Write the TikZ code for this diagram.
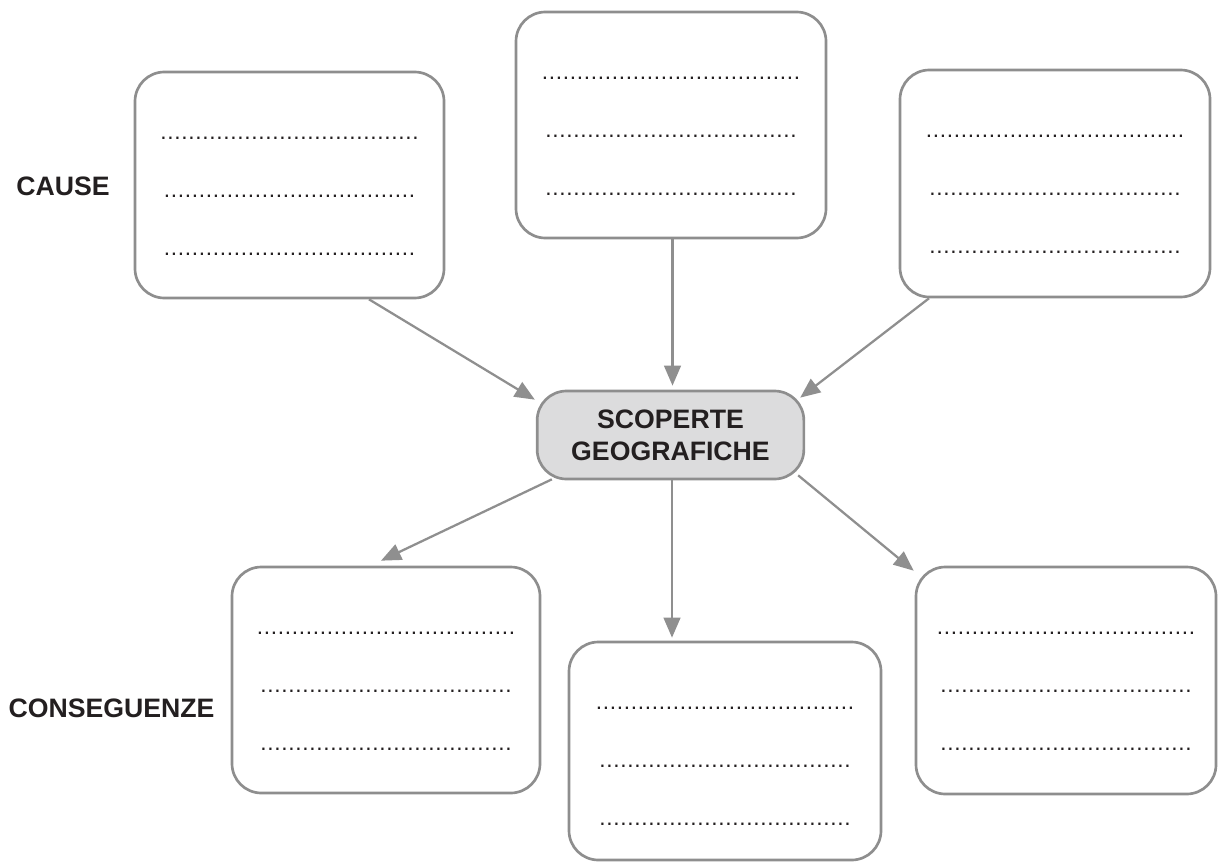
\documentclass[tikz,border=0pt]{standalone}
\usepackage{fontspec}
\setmainfont{Liberation Sans}
\usetikzlibrary{arrows.meta,calc}
\definecolor{boxgray}{HTML}{8E8E8E}
\definecolor{arrgray}{HTML}{8F8F8F}
\definecolor{fillgray}{HTML}{DCDCDD}
\definecolor{ink}{HTML}{231F20}
\newcommand\dotrow[1]{\foreach \i in {1,...,#1}{\makebox[5.25pt]{.}}}
\begin{document}
\begin{tikzpicture}[x=0.75pt,y=-0.75pt,
  box/.style={draw=boxgray,line width=2pt,rounded corners=22pt,inner sep=0pt,fill=white},
  ctr/.style={draw=boxgray,line width=2pt,rounded corners=22pt,inner sep=0pt,fill=fillgray,
    text=ink,font=\fontsize{20}{24}\selectfont\bfseries,align=center,
    minimum width=200pt,minimum height=66pt},
  lbl/.style={text=ink,font=\fontsize{20}{24}\selectfont\bfseries,inner sep=0pt},
  dots/.style={text=ink,font=\fontsize{17}{17}\selectfont,inner sep=0pt,anchor=base},
  arr/.style={draw=arrgray,line width=1.7pt,-{Triangle[length=15pt,width=12.5pt]}}]
\useasboundingbox (0,0) rectangle (1219,867);

% boxes
\node[box,minimum width=231.75pt,minimum height=169.5pt] (tl) at (289.5,185) {};
\node[box,minimum width=232.5pt,minimum height=169.5pt] (tc) at (671,125) {};
\node[box,minimum width=232.5pt,minimum height=170.25pt] (tr) at (1055,183.5) {};
\node[box,minimum width=231pt,minimum height=169.5pt] (bl) at (386,680) {};
\node[box,minimum width=234pt,minimum height=163.5pt] (bc) at (725,751) {};
\node[box,minimum width=225pt,minimum height=170.25pt] (br) at (1066,680.5) {};

\node[ctr] (c) at (670.5,435) {SCOPERTE\\GEOGRAFICHE};

% dotted writing lines
\foreach \b in {tl,tc,tr,bl,bc,br}{
  \node[dots] (\b d1) at ($(\b.north)+(0,69)$) {\dotrow{37}};
  \node[dots] (\b d2) at ($(\b.north)+(0,127)$) {\dotrow{36}};
  \node[dots] (\b d3) at ($(\b.north)+(0,185)$) {\dotrow{36}};
}

% labels
\node[lbl] (cause) at (63,186) {CAUSE};
\node[lbl] (cons) at (111.5,708) {CONSEGUENZE};

% arrows
\draw[arr] ($(tl.south west)!0.755!(tl.south east)$) -- ($(c.north west)+(-1,10)$);
\draw[arr] ($(c.north |- tc.south)+(2,0)$) -- ($(c.north)+(2,-4)$);
\draw[arr] ($(tr.south west)!0.097!(tr.south east)$) -- ($(c.north east)+(-5,8)$);
\draw[arr] ($(c.south west)+(16,-1)$) -- ($(bl.north)+(-5,-5)$);
\draw[arr] ($(c.south)+(1.5,0)$) -- ($(c.south |- bc.north)+(1.5,-3)$);
\draw[arr] ($(c.south east)+(-7,-5)$) -- ($(br.north west)+(-1,5)$);
\end{tikzpicture}
\end{document}
